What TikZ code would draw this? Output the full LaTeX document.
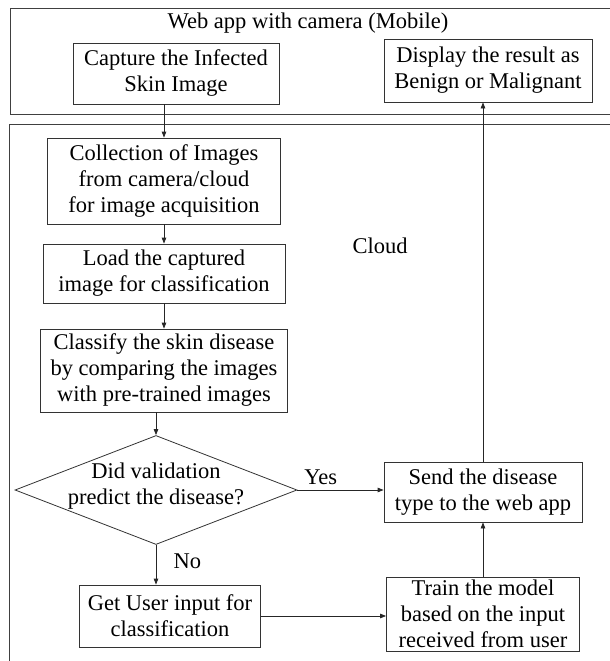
\documentclass[tikz,border=0pt]{standalone}
\usepackage{fontspec}
\setmainfont{Liberation Serif}
\usepackage{tikz}
\usetikzlibrary{positioning, arrows.meta, shapes.geometric}

\tikzset{
  block/.style={draw=black!80, line width=0.8pt, align=center, inner sep=0pt},
  frame/.style={draw=black!75, line width=0.9pt},
  flow/.style={->, draw=black!85, line width=0.8pt},
}

\begin{document}
\begin{tikzpicture}[x=1pt, y=1pt, node distance=100pt, on grid,
    >={Triangle[length=6pt,width=4.5pt]},
    font=\fontsize{22.5}{26}\selectfont]
        \useasboundingbox (0,0) rectangle (610,-661);
        % the two areas
        \draw[frame] (10,-8) rectangle (625,-114);
        \draw[frame] (9,-124) rectangle (625,-675);
        \node (title) at (308,-23) {Web app with camera (Mobile)};
        \node (cloud) at (380,-246) {Cloud};

        \node[block, minimum width=206pt, minimum height=61pt] (cap)  at (176,-73.5) {Capture the Infected\\Skin Image};
        \node[block, minimum width=208pt, minimum height=63pt] (disp) at (488,-70.5) {Display the result as\\Benign or Malignant};
        \node[block, minimum width=233pt, minimum height=86pt] (col)  at (164,-181) {Collection of Images\\from camera/cloud\\for image acquisition};
        \node[block, minimum width=242pt, minimum height=59pt] (load) [below=92.5pt of col] {Load the captured\\image for classification};
        \node[block, minimum width=247pt, minimum height=83pt] (cls)  [below=97pt of load] {Classify the skin disease\\by comparing the images\\with pre-trained images};
        \node[diamond, draw=black!80, line width=0.8pt, inner sep=0pt,
              minimum width=282pt, minimum height=109pt] (dec) at (156,-490) {};
        \node[align=center] (dectext) at ([yshift=4pt]dec.center) {Did validation\\predict the disease?};
        \node[block, minimum width=198pt, minimum height=60pt] (send)  at (483,-492) {Send the disease\\type to the web app};
        \node[block, minimum width=193pt, minimum height=74pt] (train) [below=122pt of send] {Train the model\\based on the input\\received from user};
        \node[block, minimum width=181pt, minimum height=62pt] (get)   at (170,-616) {Get User input for\\classification};

        \draw[flow] (col.north |- cap.south) -- (col.north);
        \draw[flow] (col) -- (load);
        \draw[flow] (load) -- (cls);
        \draw[flow] (dec.north |- cls.south) -- (dec.north);
        \draw[flow] (dec.east) -- node[pos=0.27, above=2pt] {Yes} (dec.east -| send.west);
        \draw[flow] (dec.south) -- node[pos=0.42, right=14pt] {No} (dec.south |- get.north);
        \draw[flow] (get.east) -- (get.east -| train.west);
        \draw[flow] (train) -- (send);
        \draw[flow] (send.north) -- (send.north |- disp.south);
      \end{tikzpicture}
\end{document}
